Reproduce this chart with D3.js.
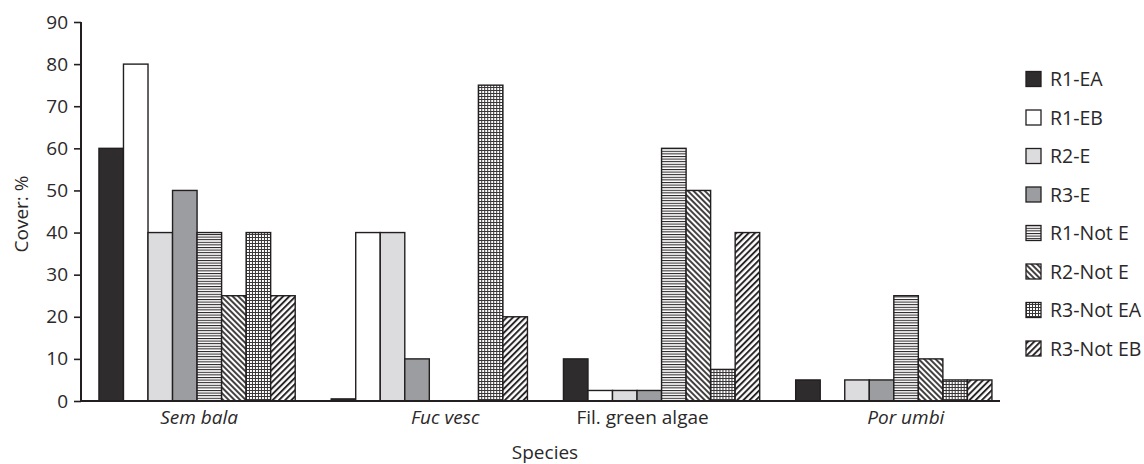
<!DOCTYPE html>
<html>
<head>
<meta charset="utf-8">
<script src="https://cdn.jsdelivr.net/npm/d3@7"></script>
<style>
  body { margin: 0; background: #fff; }
  text { font-family: "Open Sans", sans-serif; fill: #2b2829; }
</style>
</head>
<body>
<script>
var species = ['Sem bala', 'Fuc vesc', 'Fil. green algae', 'Por umbi'];
var italicSpecies = ['Sem bala', 'Fuc vesc', 'Por umbi'];
var series = ['R1-EA', 'R1-EB', 'R2-E', 'R3-E', 'R1-Not E', 'R2-Not E', 'R3-Not EA', 'R3-Not EB'];

// cover per series, in the order of `series`
var semBala  = [60, 80, 40, 50, 40, 25, 40, 25];
var fucVesc  = [0.5, 40, 40, 10, 0, 0, 75, 20];
var filGreen = [10, 2.5, 2.5, 2.5, 60, 50, 7.5, 40];
var porUmbi  = [5, 0, 5, 5, 25, 10, 5, 5];

var yTicks = [0, 10, 20, 30, 40, 50, 60, 70, 80, 90];

var values = [semBala, fucVesc, filGreen, porUmbi];
var data = [];
species.forEach(function(s, i) {
  series.forEach(function(r, j) {
    data.push({ species: s, series: r, value: values[i][j] });
  });
});

var width = 1144, height = 464;
var ink = '#231f20';

var svg = d3.select('body').append('svg')
    .attr('width', width)
    .attr('height', height);

// patterns
var defs = svg.append('defs');

var hl = defs.append('pattern').attr('id', 'hlines')
    .attr('patternUnits', 'userSpaceOnUse').attr('width', 4).attr('height', 2.6);
hl.append('rect').attr('width', 4).attr('height', 2.6).attr('fill', '#fff');
hl.append('line').attr('x1', 0).attr('x2', 4).attr('y1', 0.5).attr('y2', 0.5)
    .attr('stroke', ink).attr('stroke-width', 1);

var bd = defs.append('pattern').attr('id', 'back')
    .attr('patternUnits', 'userSpaceOnUse').attr('width', 4).attr('height', 4)
    .attr('patternTransform', 'rotate(-45)');
bd.append('rect').attr('width', 4).attr('height', 4).attr('fill', '#fff');
bd.append('line').attr('x1', 1).attr('x2', 1).attr('y1', 0).attr('y2', 4)
    .attr('stroke', ink).attr('stroke-width', 1.7);

var fd = defs.append('pattern').attr('id', 'fwd')
    .attr('patternUnits', 'userSpaceOnUse').attr('width', 4.4).attr('height', 4.4)
    .attr('patternTransform', 'rotate(45)');
fd.append('rect').attr('width', 4.4).attr('height', 4.4).attr('fill', '#fff');
fd.append('line').attr('x1', 1).attr('x2', 1).attr('y1', 0).attr('y2', 4.4)
    .attr('stroke', ink).attr('stroke-width', 1.9);

var gr = defs.append('pattern').attr('id', 'grid')
    .attr('patternUnits', 'userSpaceOnUse').attr('width', 3).attr('height', 3);
gr.append('rect').attr('width', 3).attr('height', 3).attr('fill', '#fff');
gr.append('path').attr('d', 'M0 0.5H3M0.5 0V3')
    .attr('stroke', '#3a3738').attr('stroke-width', 1);

var fills = ['#2f2c2d', '#ffffff', '#dcdcde', '#9c9da0',
             'url(#hlines)', 'url(#back)', 'url(#grid)', 'url(#fwd)'];

var color = d3.scaleOrdinal().domain(series).range(fills);

// scales
var x0 = d3.scaleBand()
    .domain(species)
    .range([81, 1000])
    .paddingInner(0.155)
    .paddingOuter(0.056)
    .align(0.69);

var x1 = d3.scaleBand()
    .domain(series)
    .range([0, x0.bandwidth()]);

var y = d3.scaleLinear()
    .domain([0, 90])
    .range([401, 22]);

// bars
svg.append('g').selectAll('g')
    .data(species)
    .enter().append('g')
    .attr('transform', function(d) { return 'translate(' + x0(d) + ',0)'; })
    .selectAll('rect')
    .data(function(s) { return data.filter(function(d) { return d.species === s && d.value > 0; }); })
    .enter().append('rect')
    .attr('x', function(d) { return x1(d.series); })
    .attr('y', function(d) { return y(d.value); })
    .attr('width', x1.bandwidth())
    .attr('height', function(d) { return y(0) - y(d.value); })
    .attr('fill', function(d) { return color(d.series); })
    .attr('stroke', ink)
    .attr('stroke-width', 1.4);

// y axis
var yAxis = svg.append('g')
    .attr('transform', 'translate(81,0)')
    .call(d3.axisLeft(y).tickValues(yTicks).tickSize(7).tickPadding(6));
yAxis.select('.domain').attr('d', 'M0,' + y(90) + 'V' + y(0)).attr('stroke', ink).attr('stroke-width', 2);
yAxis.selectAll('.tick line').attr('stroke', ink).attr('stroke-width', 1.6);
yAxis.selectAll('.tick text').style('font-size', '19px').attr('fill', '#2b2829')
    .style('font-family', '"Open Sans", sans-serif');

// x axis
var xAxis = svg.append('g')
    .attr('transform', 'translate(0,' + y(0) + ')')
    .call(d3.axisBottom(x0).tickSize(0).tickPadding(10).tickSizeOuter(0));
xAxis.select('.domain').attr('d', 'M81,0H1000').attr('stroke', ink).attr('stroke-width', 2.2);
var nudge = { 'Sem bala': 2, 'Fuc vesc': 16, 'Fil. green algae': -19, 'Por umbi': 12 };
xAxis.selectAll('.tick text')
    .style('font-size', '19px')
    .style('font-family', '"Open Sans", sans-serif')
    .attr('fill', '#2b2829')
    .attr('dx', function(d) { return nudge[d]; })
    .style('font-style', function(d) { return italicSpecies.indexOf(d) >= 0 ? 'italic' : 'normal'; });

// axis titles
svg.append('text')
    .attr('transform', 'translate(28,214) rotate(-90)')
    .style('text-anchor', 'middle')
    .style('font-size', '19px')
    .text('Cover: %');

svg.append('text')
    .attr('x', 545)
    .attr('y', 459)
    .style('text-anchor', 'middle')
    .style('font-size', '19px')
    .text('Species');

// legend
var legend = svg.append('g').selectAll('g')
    .data(series)
    .enter().append('g')
    .attr('transform', function(d, i) { return 'translate(1026,' + (79 + i * 38.5) + ')'; });

legend.append('rect')
    .attr('x', 0).attr('y', -7.5)
    .attr('width', 15).attr('height', 15)
    .attr('fill', function(d) { return color(d); })
    .attr('stroke', ink)
    .attr('stroke-width', 1.3);

legend.append('text')
    .attr('x', 24)
    .attr('y', 0)
    .attr('dy', '0.36em')
    .style('font-size', '19.5px')
    .text(function(d) { return d; });
</script>
</body>
</html>
